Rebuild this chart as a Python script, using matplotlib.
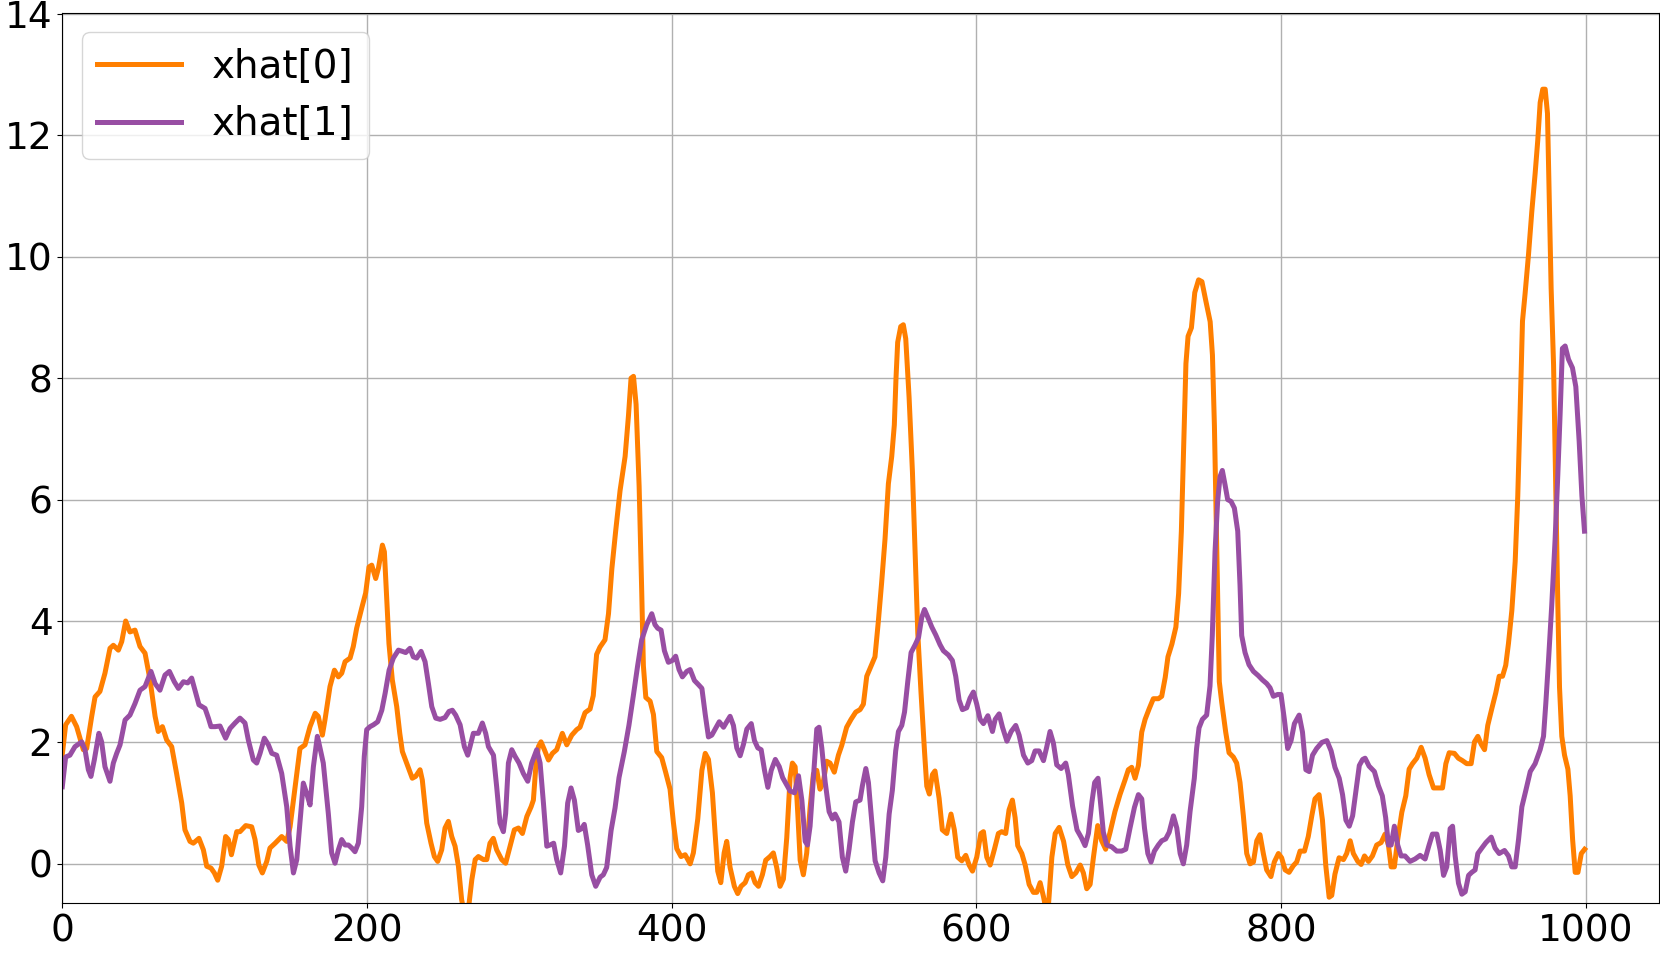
import matplotlib
matplotlib.use("Agg")
import matplotlib.pyplot as plt
import numpy as np

# xhat[0] trace (step, value)
xhat0_pts = [
    (0, 1.8), (2.2, 2.29), (6, 2.43), (9.4, 2.26), (13.8, 1.88), (16, 1.9), (19.3, 2.43), (21.5, 2.75),
    (24.7, 2.84), (28, 3.14), (31.3, 3.55), (33.5, 3.6), (36.8, 3.52), (39, 3.66), (41.6, 4.0), (44.4, 3.82),
    (47.7, 3.85), (51, 3.58), (54.3, 3.47), (57.6, 3.03), (60.9, 2.43), (63, 2.18), (65.7, 2.26), (68.5, 2.04),
    (71.8, 1.93), (75, 1.49), (78.4, 1.0), (80.5, 0.56), (83.8, 0.37), (86, 0.34), (89.7, 0.42), (92.6, 0.23),
    (94.8, -0.04), (97.6, -0.07), (99.8, -0.15), (102, -0.27), (104.6, -0.04), (107.2, 0.45), (109, 0.40),
    (111, 0.15), (114.5, 0.53), (116.6, 0.53), (120.4, 0.63), (124.3, 0.61), (126.5, 0.40), (129, -0.02),
    (131.3, -0.15), (134.2, 0.04), (136.3, 0.26), (139.7, 0.34), (144, 0.45), (147.3, 0.37), (149.5, 0.61),
    (152.8, 1.27), (156, 1.9), (159.3, 1.96), (162.6, 2.26), (166, 2.48), (168, 2.43), (170.7, 2.12),
    (172.4, 2.37), (175.7, 2.92), (178.6, 3.19), (181.2, 3.08), (183.4, 3.14), (185.6, 3.33), (188.9, 3.39),
    (191, 3.58), (193.2, 3.88), (196.5, 4.21), (199.1, 4.46), (201.3, 4.89), (203.1, 4.92), (205.7, 4.7),
    (207.5, 4.87), (210.1, 5.25), (211.4, 5.14), (212.9, 4.4), (214.4, 3.63), (216.6, 3.03), (219.5, 2.59),
    (221.5, 2.15), (223.2, 1.85), (226, 1.66), (229.7, 1.41), (231.9, 1.44), (234.8, 1.55), (236.3, 1.38),
    (239.2, 0.67), (242, 0.34), (244.2, 0.12), (246.4, 0.04), (249, 0.23), (251.2, 0.59), (253.4, 0.7),
    (255.6, 0.45), (257.8, 0.29), (260, -0.04), (262.1, -0.59), (264.5, -0.9), (267, -0.65), (268.8, -0.26),
    (271, 0.07), (273.1, 0.12), (276.4, 0.07), (278.6, 0.07), (280.7, 0.34), (282.9, 0.42), (285.1, 0.23),
    (288.4, 0.07), (291, 0.01), (293.9, 0.29), (296.7, 0.56), (299.4, 0.59), (302, 0.5), (304.9, 0.78),
    (307.7, 0.94), (309.2, 1.05), (310.8, 1.6), (312.5, 1.93), (314.2, 2.01), (316.4, 1.88), (319.1, 1.71),
    (321.7, 1.82), (324.5, 1.88), (328.2, 2.15), (331.1, 1.96), (334.4, 2.12), (337.6, 2.21), (339.8, 2.25),
    (343.1, 2.49), (346.4, 2.55), (348.5, 2.77), (350.7, 3.45), (352.9, 3.57), (356.2, 3.69), (358.5, 4.12),
    (360.7, 4.86), (363.2, 5.48), (366.1, 6.15), (369.4, 6.71), (371.6, 7.38), (373.3, 8.0), (374.9, 8.03),
    (376.6, 7.57), (378.6, 6.22), (380.3, 4.49), (381.4, 3.26), (383, 2.74), (385.8, 2.68), (388, 2.46),
    (390.2, 1.85), (393.4, 1.75), (396, 1.51), (398.9, 1.23), (401.1, 0.68), (403.3, 0.25), (406.1, 0.12),
    (408.8, 0.15), (412.1, 0.0), (414.2, 0.18), (417.1, 0.74), (419.8, 1.54), (422, 1.82), (424.1, 1.72),
    (426.7, 1.17), (428.5, 0.49), (430.2, -0.12), (432.2, -0.31), (434.4, 0.18), (436.1, 0.37), (438.3, -0.06),
    (441.1, -0.37), (443.3, -0.49), (445.5, -0.37), (448.2, -0.31), (450.3, -0.18), (452.5, -0.15),
    (454.7, -0.31), (456.9, -0.37), (459.5, -0.18), (461.7, 0.06), (464.5, 0.12), (466.7, 0.18), (468.9, -0.06),
    (471.1, -0.37), (473.3, -0.25), (475.5, 0.43), (477.7, 1.42), (479.2, 1.66), (481, 1.6), (482.8, 0.8),
    (484.3, 0.06), (486.4, -0.18), (488.6, 0.18), (490.8, 0.92), (493, 1.48), (495.2, 1.54), (497.3, 1.23),
    (499.5, 1.35), (501.7, 1.69), (503.9, 1.66), (506.7, 1.51), (509.4, 1.79), (511.6, 1.95), (514.8, 2.25),
    (517.7, 2.38), (520.8, 2.5), (523.6, 2.54), (525.8, 2.63), (528, 3.09), (530.2, 3.22), (533.4, 3.41),
    (535.6, 3.99), (537.8, 4.64), (540, 5.35), (542.2, 6.26), (544.4, 6.71), (546.1, 7.23), (547.2, 8.0),
    (548.3, 8.59), (550.3, 8.85), (552, 8.88), (553.6, 8.65), (555.8, 7.68), (558, 6.45), (559.7, 5.16),
    (561.5, 3.8), (563.6, 2.83), (565.9, 1.86), (567.4, 1.28), (569.1, 1.15), (571.1, 1.47), (572.8, 1.53),
    (575.5, 1.08), (577.6, 0.56), (580.5, 0.5), (583.3, 0.82), (585.5, 0.56), (587.7, 0.11), (590.4, 0.05),
    (593, 0.14), (595.2, -0.02), (597.4, -0.12), (600.2, 0.11), (602.9, 0.5), (604.6, 0.53), (606.8, 0.11),
    (609, -0.02), (611.8, 0.24), (614.4, 0.5), (616.6, 0.53), (619.2, 0.5), (621.4, 0.89), (623.6, 1.05),
    (625.4, 0.76), (627.1, 0.3), (629.8, 0.17), (632, -0.02), (634.6, -0.34), (637.4, -0.47), (639.6, -0.47),
    (641.8, -0.31), (644, -0.54), (645.5, -0.73), (647.3, -0.67), (649.5, 0.11), (651.7, 0.5), (654.3, 0.6),
    (657.2, 0.37), (660, -0.02), (662.6, -0.21), (665.2, -0.15), (668.1, -0.02), (670.2, -0.15), (672.4, -0.41),
    (674.6, -0.34), (676.8, 0.11), (679.6, 0.63), (682.2, 0.38), (684.8, 0.24), (687.7, 0.52), (690.9, 0.86),
    (694.2, 1.14), (697.5, 1.38), (699.7, 1.55), (701.9, 1.59), (704.1, 1.41), (706.3, 1.62), (708.5, 2.17),
    (710.7, 2.38), (713.3, 2.55), (716.1, 2.72), (719.4, 2.72), (721.6, 2.76), (723.9, 3.07), (725.7, 3.41),
    (728.3, 3.62), (730.9, 3.9), (732.7, 4.45), (734.5, 5.48), (736, 6.86), (737.5, 8.24), (738.9, 8.69),
    (741.1, 8.83), (743.3, 9.41), (745.8, 9.62), (748, 9.59), (750.5, 9.28), (753.4, 8.93), (754.9, 8.38),
    (756.2, 7.21), (757.8, 5.14), (759.4, 3.0), (761, 2.66), (763.6, 2.17), (765.8, 1.83), (768.6, 1.76),
    (770.8, 1.66), (773, 1.34), (775.2, 0.79), (777.4, 0.17), (779.6, 0.0), (781.8, 0.03), (784, 0.38),
    (786.1, 0.48), (788.3, 0.17), (790.5, -0.1), (793.3, -0.21), (795.5, 0.03), (798.2, 0.17), (800.3, 0.1),
    (802.6, -0.1), (805.2, -0.14), (808, -0.03), (810.2, 0.03), (812.4, 0.21), (815.3, 0.21), (817.8, 0.45),
    (820.1, 0.79), (822.2, 1.07), (824.9, 1.14), (827.1, 0.72), (829.3, -0.03), (831.5, -0.55), (833.2, -0.52),
    (835.3, -0.17), (838, 0.1), (840.9, 0.07), (843, 0.17), (845.3, 0.38), (847.4, 0.17), (850.3, 0.04),
    (852.5, -0.01), (854.7, 0.13), (857.3, 0.04), (859.9, 0.13), (862.7, 0.31), (865.6, 0.35), (868.2, 0.49),
    (870.4, 0.31), (872.2, -0.05), (874.3, -0.05), (876.5, 0.4), (879.2, 0.85), (881.8, 1.12), (884, 1.56),
    (886.2, 1.65), (889, 1.74), (891.9, 1.92), (894.5, 1.74), (897.1, 1.47), (900, 1.25), (903.3, 1.25),
    (905.9, 1.25), (908.1, 1.65), (910.3, 1.83), (913.7, 1.82), (916.3, 1.74), (919, 1.7), (921.8, 1.65),
    (924.7, 1.65), (926.9, 2.01), (929.1, 2.1), (931.3, 1.97), (933.5, 1.88), (935.6, 2.28), (938.2, 2.55),
    (940.9, 2.82), (943.1, 3.09), (945.3, 3.09), (947.4, 3.27), (949.2, 3.63), (951.4, 4.17), (953.6, 4.98),
    (955.3, 6.06), (956.8, 7.41), (958.4, 8.94), (960.1, 9.39), (962.3, 10.02), (964.5, 10.74), (966.7, 11.37),
    (968.4, 11.91), (970, 12.54), (971.7, 12.76), (973.3, 12.76), (974.8, 12.36), (975.9, 11.01), (977.2, 9.48),
    (978.8, 8.22), (980.3, 6.06), (981.6, 4.26), (982.7, 2.91), (984.2, 2.1), (986, 1.79), (988.2, 1.56),
    (989.7, 1.12), (991.3, 0.4), (993, -0.14), (994.8, -0.14), (997, 0.17), (999.2, 0.24),
]

# xhat[1] trace
xhat1_pts = [
    (0, 1.27), (2.2, 1.76), (5, 1.79), (8.3, 1.93), (12.7, 2.01), (14.9, 1.88), (17.1, 1.55), (18.8, 1.44),
    (21, 1.71), (24, 2.15), (25.8, 2.01), (28, 1.6), (31.3, 1.36), (33.5, 1.66), (35.7, 1.82), (37.9, 1.96),
    (41.2, 2.37), (44.4, 2.45), (47.7, 2.64), (51, 2.86), (54.3, 2.92), (58.2, 3.17), (60.9, 2.97), (64.1, 2.86),
    (67.4, 3.11), (70.3, 3.17), (73.5, 3.0), (76.2, 2.89), (79.5, 3.0), (82.3, 2.98), (84.9, 3.06), (87.1, 2.86),
    (89.7, 2.62), (93.7, 2.56), (95.9, 2.4), (97.6, 2.26), (100.3, 2.26), (103.5, 2.27), (105.7, 2.15),
    (107.2, 2.07), (110.1, 2.23), (113.4, 2.32), (116.6, 2.4), (119.9, 2.32), (122.1, 2.04), (125.4, 1.71),
    (127.6, 1.66), (129.8, 1.82), (132.6, 2.07), (135.3, 1.96), (137.5, 1.82), (140.7, 1.79), (144, 1.49),
    (147.3, 0.94), (149.5, 0.29), (151.7, -0.15), (153.9, 0.07), (156.1, 0.72), (158.2, 1.33), (160.4, 1.16),
    (162.6, 0.97), (164.8, 1.6), (167.4, 2.1), (168, 2.04), (171.3, 1.66), (174.6, 0.83), (176.8, 0.18),
    (179, 0.01), (181.2, 0.23), (183.4, 0.40), (185.6, 0.31), (187.8, 0.31), (190, 0.26), (192.1, 0.2),
    (194.3, 0.34), (196.5, 0.94), (198.2, 1.77), (199.8, 2.21), (202, 2.26), (204.2, 2.29), (207, 2.34),
    (209.7, 2.53), (211.9, 2.81), (214.5, 3.19), (217.3, 3.39), (220.6, 3.52), (223.2, 3.5), (225.4, 3.48),
    (228.2, 3.55), (230.4, 3.41), (232.6, 3.39), (235.5, 3.5), (238.1, 3.33), (240.3, 2.97), (242.5, 2.59),
    (245.1, 2.4), (248, 2.38), (251.2, 2.41), (253.8, 2.51), (256, 2.53), (258.2, 2.45), (261.1, 2.29),
    (263.9, 1.93), (266.1, 1.79), (267.6, 1.93), (269.8, 2.15), (273.1, 2.15), (275.7, 2.32), (277.9, 2.15),
    (279.7, 1.93), (283, 1.79), (285.1, 1.27), (287.3, 0.67), (289.5, 0.53), (291, 0.83), (292.8, 1.66),
    (295, 1.88), (297.2, 1.77), (299.8, 1.66), (302.6, 1.49), (305.5, 1.36), (308.1, 1.66), (311.4, 1.88),
    (313.6, 1.66), (315.8, 1.0), (318, 0.29), (320.1, 0.31), (322.5, 0.34), (324.5, 0.07), (327.1, -0.15),
    (329.6, 0.29), (331.7, 1.0), (333.9, 1.25), (336.1, 1.05), (338.7, 0.55), (340.9, 0.58), (342.6, 0.65),
    (344.8, 0.31), (347.5, -0.18), (350.1, -0.37), (353, -0.22), (355.1, -0.18), (357.3, -0.06), (360.2, 0.55),
    (362.8, 0.92), (365.4, 1.42), (368.9, 1.85), (371.9, 2.28), (374.8, 2.77), (377.6, 3.26), (380.3, 3.69),
    (383.6, 3.94), (386.9, 4.12), (389, 3.94), (390.8, 3.88), (393, 3.85), (395.2, 3.51), (397.8, 3.32),
    (400.4, 3.35), (402.6, 3.42), (404.8, 3.2), (407, 3.08), (409.9, 3.17), (412.1, 3.2), (414.9, 3.02),
    (417.6, 2.95), (419.8, 2.89), (422, 2.46), (424.1, 2.09), (426.3, 2.12), (428.5, 2.22), (431.2, 2.34),
    (434, 2.25), (436.1, 2.34), (438.3, 2.43), (440.5, 2.28), (442.7, 1.91), (444.9, 1.78), (447.1, 1.97),
    (449.3, 2.22), (452.2, 2.31), (454.3, 2.03), (456.5, 1.91), (458.7, 1.88), (460.9, 1.54), (463.1, 1.26),
    (465.3, 1.54), (468, 1.72), (470.6, 1.6), (472.8, 1.42), (475, 1.32), (477.7, 1.2), (480.6, 1.17),
    (483.2, 1.45), (485.4, 1.05), (487.6, 0.37), (489.1, 0.31), (490.8, 0.62), (493, 1.42), (495.2, 2.22),
    (496.7, 2.25), (498.5, 1.91), (500.7, 1.35), (503.3, 0.86), (505.5, 0.74), (507.2, 0.82), (509.8, 0.69),
    (512, 0.11), (514.2, -0.12), (516.4, 0.24), (518.6, 0.69), (520.8, 1.02), (523.6, 1.05), (525.1, 1.28),
    (527.4, 1.57), (529.1, 1.34), (531.3, 0.69), (533.5, 0.05), (536.1, -0.15), (538.5, -0.28), (540.5, 0.11),
    (542.7, 0.82), (544.8, 1.21), (547, 1.86), (548.8, 2.18), (551, 2.28), (552.8, 2.5), (555, 3.02),
    (557.1, 3.48), (559.8, 3.61), (562, 3.73), (564.1, 4.06), (565.9, 4.19), (568.1, 4.06), (570.7, 3.9),
    (573.3, 3.77), (576.1, 3.61), (578.3, 3.51), (581.6, 3.44), (584.2, 3.35), (586.4, 3.09), (588.6, 2.7),
    (590.8, 2.54), (593.6, 2.57), (595.8, 2.73), (598, 2.83), (600.2, 2.63), (602.4, 2.38), (604.6, 2.31),
    (607.5, 2.44), (610.5, 2.18), (612.3, 2.38), (614.9, 2.47), (617.1, 2.25), (620, 2.02), (622.8, 2.18),
    (625.8, 2.28), (628, 2.12), (630.9, 1.79), (633.7, 1.66), (636.3, 1.7), (638.5, 1.86), (641.1, 1.86),
    (644, 1.7), (646.1, 1.92), (648.3, 2.18), (650.5, 1.99), (652.7, 1.63), (655.6, 1.57), (658.6, 1.66),
    (660.3, 1.47), (663.1, 0.95), (666, 0.56), (668.9, 0.43), (671.3, 0.3), (673.5, 0.5), (675.8, 1.02),
    (677.6, 1.34), (679.8, 1.41), (681.2, 1.07), (683.3, 0.52), (685.5, 0.31), (688.8, 0.28), (692.1, 0.21),
    (695.3, 0.21), (698, 0.24), (700.8, 0.59), (703.7, 0.93), (706.3, 1.14), (708.5, 1.07), (710.3, 0.59),
    (712.5, 0.17), (714.6, 0.03), (716.8, 0.21), (719.4, 0.31), (721.6, 0.38), (724.2, 0.41), (726.5, 0.52),
    (729.3, 0.79), (731.5, 0.59), (733.7, 0.17), (735.8, 0.0), (738, 0.31), (740.2, 0.86), (743, 1.41),
    (744.5, 1.9), (746.1, 2.24), (748.3, 2.38), (751.1, 2.45), (753.3, 2.93), (754.8, 3.76), (756.6, 5.14),
    (758.3, 5.97), (759.9, 6.38), (761.4, 6.48), (763.2, 6.24), (764.9, 6.0), (767.1, 5.97), (769.3, 5.86),
    (771.5, 5.48), (773, 4.59), (774.1, 3.76), (776.3, 3.48), (778.9, 3.28), (781.8, 3.17), (785, 3.1),
    (787.7, 3.03), (790.5, 2.97), (792.7, 2.9), (794.9, 2.76), (797.7, 2.79), (799.9, 2.79), (802.1, 2.38),
    (804.3, 1.9), (806.5, 2.03), (808.7, 2.31), (811.8, 2.45), (814, 2.17), (816.2, 1.55), (818.4, 1.52),
    (820.6, 1.79), (823.3, 1.9), (826.7, 2.0), (830, 2.03), (832.8, 1.86), (835.3, 1.59), (838.1, 1.41),
    (840.3, 1.14), (842.5, 0.72), (844.7, 0.62), (846.9, 0.79), (849.1, 1.21), (851.3, 1.62), (853.5, 1.72),
    (855.1, 1.74), (857.7, 1.61), (861.2, 1.52), (863.8, 1.29), (866.4, 1.12), (868.6, 0.76), (870.4, 0.31),
    (872.2, 0.31), (874.3, 0.62), (876.5, 0.31), (878.7, 0.13), (881.3, 0.13), (884.6, 0.04), (887.9, 0.08),
    (891.2, 0.14), (894.5, 0.08), (897.1, 0.31), (899.3, 0.49), (902.2, 0.49), (904.4, 0.22), (906.6, -0.19),
    (908.7, -0.05), (910.9, 0.58), (912.5, 0.62), (914.2, 0.13), (916.4, -0.32), (918.6, -0.5), (920.8, -0.46),
    (923, -0.19), (925.1, -0.14), (927.3, -0.1), (929.1, 0.17), (931.7, 0.26), (934.4, 0.35), (937.9, 0.44),
    (940.4, 0.26), (943.1, 0.17), (946.6, 0.22), (949.2, 0.13), (951.4, -0.05), (953.6, -0.05), (955.8, 0.4),
    (958, 0.94), (960.6, 1.21), (963.5, 1.52), (966.7, 1.65), (970, 1.88), (972.2, 2.1), (973.7, 2.64),
    (975.5, 3.36), (977.6, 4.26), (979.8, 5.34), (981.6, 6.42), (983.1, 7.41), (984.6, 8.49), (986.4, 8.53),
    (988.6, 8.31), (991.2, 8.17), (993.4, 7.86), (995.6, 6.96), (997.4, 6.06), (999.1, 5.48),
]

labels = ["xhat[0]", "xhat[1]"]
colors = ["#ff7f00", "#984ea3"]

xhat0 = np.array(xhat0_pts)
xhat1 = np.array(xhat1_pts)

fig = plt.figure(figsize=(16.6, 9.55), dpi=100)
ax = fig.add_axes([62.3 / 1660, 1 - 903.3 / 955, (1659 - 62.3) / 1660, (903.3 - 12.7) / 955])

ax.plot(xhat0[:, 0], xhat0[:, 1], color=colors[0], lw=3.6, label=labels[0])
ax.plot(xhat1[:, 0], xhat1[:, 1], color=colors[1], lw=3.6, label=labels[1])

ax.set_xlim(0, 1048)
ax.set_ylim(-0.65, 14.02)
ax.set_yticks(np.arange(0, 15, 2))
ax.set_xticks(np.arange(0, 1001, 200))
ax.grid(True, color="#b0b0b0", lw=1)
ax.tick_params(labelsize=27)

ax.legend(loc="upper left", fontsize=28, handlelength=2.15)

fig.savefig("out.png", dpi=100)
